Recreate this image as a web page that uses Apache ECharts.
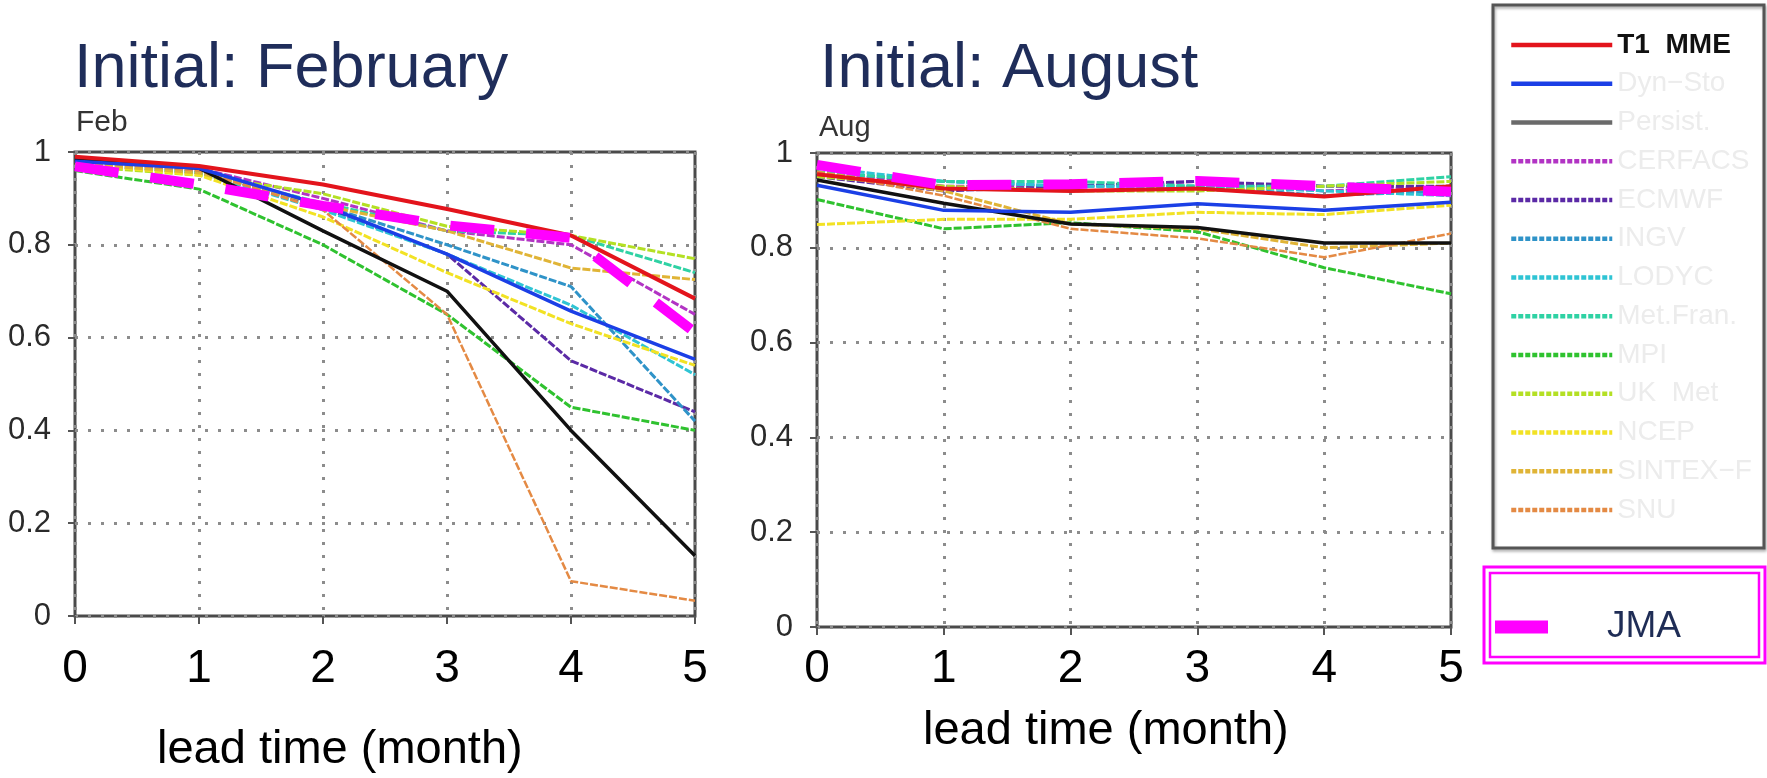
<!DOCTYPE html>
<html><head><meta charset="utf-8">
<script src="https://cdn.jsdelivr.net/npm/echarts@6/dist/echarts.min.js"></script>
<style>html,body{margin:0;padding:0;background:#fff}#c{width:1767px;height:778px}</style>
</head><body><div id="c"></div>
<script>
// ---------- data ----------
const leadTimes = [0, 1, 2, 3, 4, 5];
const xTickLabels = ['0', '1', '2', '3', '4', '5'];
const yTickValues = [0, 0.2, 0.4, 0.6, 0.8, 1];
const yTickLabels = ['0', '0.2', '0.4', '0.6', '0.8', '1'];
const modelNames = ['T1  MME', 'Dyn\u2212Sto', 'Persist.', 'CERFACS', 'ECMWF', 'INGV', 'LODYC',
  'Met.Fran.', 'MPI', 'UK  Met', 'NCEP', 'SINTEX\u2212F', 'SNU'];
const jmaName = 'JMA';

// Initial: February
const febT1MME   = [0.99, 0.97, 0.93, 0.877, 0.82, 0.684];
const febDynSto  = [0.98, 0.965, 0.885, 0.78, 0.657, 0.553];
const febPersist = [0.985, 0.965, 0.83, 0.70, 0.40, 0.13];
const febCERFACS = [0.98, 0.965, 0.90, 0.83, 0.80, 0.65];
const febECMWF   = [0.98, 0.96, 0.88, 0.78, 0.55, 0.44];
const febINGV    = [0.975, 0.955, 0.885, 0.80, 0.71, 0.42];
const febLODYC   = [0.975, 0.955, 0.875, 0.78, 0.67, 0.52];
const febMetFran = [0.975, 0.955, 0.89, 0.83, 0.82, 0.74];
const febMPI     = [0.96, 0.92, 0.80, 0.65, 0.45, 0.40];
const febUKMet   = [0.97, 0.95, 0.91, 0.84, 0.82, 0.77];
const febNCEP    = [0.975, 0.95, 0.86, 0.74, 0.63, 0.54];
const febSINTEX  = [0.975, 0.955, 0.885, 0.83, 0.75, 0.725];
const febSNU     = [0.98, 0.96, 0.875, 0.65, 0.075, 0.033];
const febJMA     = [0.969, 0.93, 0.884, 0.842, 0.815, 0.611];

// Initial: August
const augT1MME   = [0.955, 0.925, 0.92, 0.925, 0.908, 0.93];
const augDynSto  = [0.932, 0.879, 0.875, 0.893, 0.879, 0.896];
const augPersist = [0.943, 0.894, 0.85, 0.843, 0.81, 0.81];
const augCERFACS = [0.96, 0.93, 0.93, 0.94, 0.92, 0.93];
const augECMWF   = [0.95, 0.92, 0.93, 0.94, 0.93, 0.93];
const augINGV    = [0.96, 0.94, 0.93, 0.93, 0.91, 0.92];
const augLODYC   = [0.97, 0.94, 0.93, 0.93, 0.92, 0.91];
const augMetFran = [0.96, 0.94, 0.94, 0.93, 0.93, 0.95];
const augMPI     = [0.902, 0.84, 0.853, 0.834, 0.758, 0.703];
const augUKMet   = [0.95, 0.93, 0.92, 0.92, 0.93, 0.94];
const augNCEP    = [0.849, 0.86, 0.86, 0.875, 0.87, 0.89];
const augSINTEX  = [0.96, 0.92, 0.85, 0.84, 0.80, 0.81];
const augSNU     = [0.96, 0.91, 0.84, 0.82, 0.78, 0.83];
const augJMA     = [0.975, 0.932, 0.934, 0.941, 0.93, 0.918];

const febData = [febT1MME, febDynSto, febPersist, febCERFACS, febECMWF, febINGV, febLODYC,
  febMetFran, febMPI, febUKMet, febNCEP, febSINTEX, febSNU];
const augData = [augT1MME, augDynSto, augPersist, augCERFACS, augECMWF, augINGV, augLODYC,
  augMetFran, augMPI, augUKMet, augNCEP, augSINTEX, augSNU];

// ---------- styles ----------
const DASH = [8, 2];
const modelStyles = [
  {color: '#e3141c', width: 4, type: 'solid', z: 8},
  {color: '#1b3fe6', width: 3.5, type: 'solid', z: 7},
  {color: '#111111', width: 3.5, type: 'solid', z: 6, legendColor: '#6a6a6a'},
  {color: '#b234c4', width: 3, type: DASH, z: 3},
  {color: '#5b2aa6', width: 3, type: DASH, z: 3},
  {color: '#2f93c8', width: 3, type: DASH, z: 3},
  {color: '#2fc4d4', width: 3, type: DASH, z: 3},
  {color: '#2fd2a4', width: 3, type: DASH, z: 3},
  {color: '#2fc22f', width: 3, type: DASH, z: 3},
  {color: '#b4e024', width: 3, type: DASH, z: 3},
  {color: '#f2e224', width: 3, type: DASH, z: 3},
  {color: '#e0b436', width: 3, type: DASH, z: 3},
  {color: '#e48a44', width: 2.5, type: DASH, z: 3}
];

function pairs(vals) { return leadTimes.map((x, i) => [x, vals[i]]); }

const series = [];
[febData, augData].forEach((set, g) => {
  set.forEach((vals, k) => {
    const st = modelStyles[k];
    series.push({
      name: modelNames[k], type: 'line', xAxisIndex: g, yAxisIndex: g,
      data: pairs(vals), symbol: 'none', silent: true, z: st.z,
      lineStyle: {color: st.color, width: st.width, type: st.type},
      itemStyle: {color: st.color}
    });
  });
  series.push({
    name: jmaName, type: 'line', xAxisIndex: g, yAxisIndex: g,
    data: pairs(g === 0 ? febJMA : augJMA), symbol: 'none', silent: true, z: 10,
    lineStyle: {color: '#ff00ff', width: 10, type: [44, 32]},
    itemStyle: {color: '#ff00ff'}
  });
});

const grids = [
  {left: 75, top: 152, width: 620, height: 464},
  {left: 817, top: 153, width: 634, height: 474}
];
const xLabelMargins = [30, 19];

const splitStyle = {show: true, lineStyle: {color: '#8c8c8c', width: 3, type: [3, 10]}};

const xAxes = grids.map((g, i) => ({
  type: 'value', gridIndex: i, min: 0, max: 5, interval: 1,
  axisLine: {show: false},
  axisTick: {show: true, length: 8, lineStyle: {color: '#555', width: 2}},
  axisLabel: {fontSize: 46, color: '#000', margin: xLabelMargins[i], fontFamily: 'Liberation Sans',
    formatter: v => xTickLabels[leadTimes.indexOf(v)]},
  splitLine: splitStyle
}));
const yAxes = grids.map((g, i) => ({
  type: 'value', gridIndex: i, min: 0, max: 1, interval: 0.2,
  axisLine: {show: false},
  axisTick: {show: true, length: 7, lineStyle: {color: '#555', width: 2}},
  axisLabel: {fontSize: 31, color: '#2a2a2a', margin: 24, fontFamily: 'Liberation Sans',
    formatter: v => yTickLabels[yTickValues.findIndex(t => Math.abs(t - v) < 1e-6)]},
  splitLine: splitStyle
}));

const legendData = modelNames.map((n, k) => {
  const st = modelStyles[k];
  const item = {
    name: n,
    lineStyle: {color: st.legendColor || st.color, width: 4.5,
      type: st.type === 'solid' ? 'solid' : [5, 2], opacity: 1},
    itemStyle: {opacity: 0}
  };
  if (k === 0) item.textStyle = {color: '#111', fontWeight: 'bold'};
  return item;
});

const titleFont = 'Liberation Sans';
const option = {
  backgroundColor: '#fff',
  animation: false,
  title: [
    {text: 'Initial: February', left: 74, top: 38, padding: 0,
      textStyle: {fontSize: 63, fontWeight: 'normal', color: '#1f2d5a', fontFamily: titleFont}},
    {text: 'Initial: August', left: 820, top: 38, padding: 0,
      textStyle: {fontSize: 63, fontWeight: 'normal', color: '#1f2d5a', fontFamily: titleFont}},
    {text: 'Feb', left: 76, top: 108, padding: 0,
      textStyle: {fontSize: 30, fontWeight: 'normal', color: '#333', fontFamily: titleFont}},
    {text: 'Aug', left: 819, top: 113, padding: 0,
      textStyle: {fontSize: 29, fontWeight: 'normal', color: '#333', fontFamily: titleFont}},
    {text: 'lead time (month)', left: 157, top: 727, padding: 0,
      textStyle: {fontSize: 47, fontWeight: 'normal', color: '#000', fontFamily: titleFont}},
    {text: 'lead time (month)', left: 923, top: 708, padding: 0,
      textStyle: {fontSize: 47, fontWeight: 'normal', color: '#000', fontFamily: titleFont}}
  ],
  grid: grids.map(g => Object.assign({show: true, borderColor: '#4a4a4a', borderWidth: 3,
    backgroundColor: 'transparent'}, g)),
  xAxis: xAxes,
  yAxis: yAxes,
  legend: [
    {orient: 'vertical', left: 1509, top: 31, padding: 0, itemGap: 10.75,
      itemWidth: 101, itemHeight: 28, selectedMode: false,
      itemStyle: {opacity: 0},
      data: legendData,
      textStyle: {fontSize: 28, lineHeight: 28, color: '#ececec', fontFamily: 'Liberation Sans'}},
    {orient: 'vertical', left: 1495, top: 599, padding: 0, selectedMode: false,
      icon: 'rect', itemWidth: 53, itemHeight: 13,
      data: [jmaName],
      textStyle: {fontSize: 37, lineHeight: 37, color: '#1f2d56', fontFamily: 'Liberation Sans',
        padding: [0, 0, 19, 54]}}
  ],
  graphic: [
    {type: 'rect', shape: {x: 1493, y: 5, width: 271, height: 543}, z: 1,
      style: {fill: 'none', stroke: '#555', lineWidth: 3,
        shadowBlur: 3, shadowOffsetX: 1, shadowOffsetY: 2, shadowColor: 'rgba(0,0,0,0.35)'}},
    {type: 'rect', shape: {x: 1484, y: 567, width: 281, height: 96}, z: 1,
      style: {fill: 'none', stroke: '#ff00ff', lineWidth: 3}},
    {type: 'rect', shape: {x: 1490, y: 573, width: 269, height: 84}, z: 1,
      style: {fill: 'none', stroke: '#ff00ff', lineWidth: 2.5}}
  ],
  series: series
};

const chart = echarts.init(document.getElementById('c'), null, {renderer: 'canvas'});
chart.setOption(option);
</script>
</body></html>
